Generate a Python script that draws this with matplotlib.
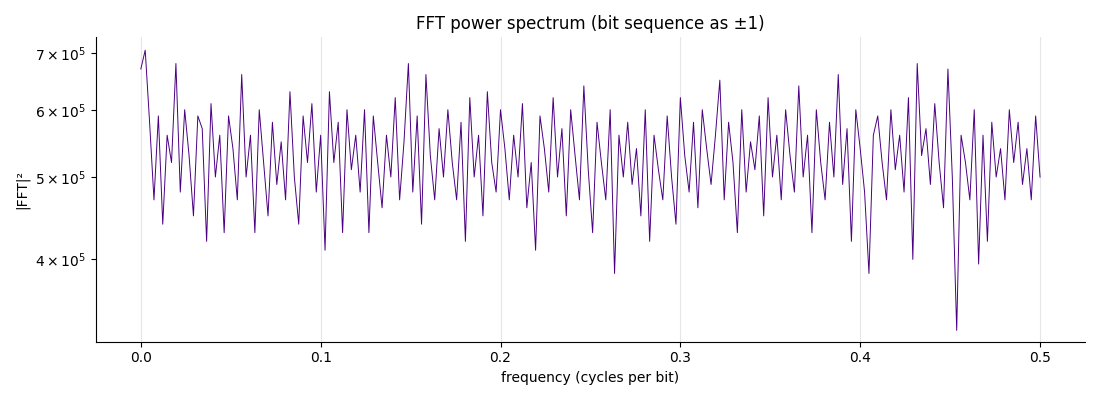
import numpy as np
import matplotlib.pyplot as plt

# |FFT|^2 in thousands (coarse sampling)
p = [670, 705, 580, 470, 590, 440, 560, 520, 680, 480, 600, 530, 450, 590, 570, 420, 610, 500, 560, 430,
     590, 540, 470, 660, 500, 560, 430, 600, 520, 450, 580, 490, 550, 470, 630, 500, 440, 590, 520, 610,
     480, 560, 410, 630, 520, 580, 430, 600, 510, 560, 480, 600, 430, 590, 520, 460, 560, 500, 620, 470,
     550, 680, 480, 590, 440, 660, 530, 470, 570, 500, 600, 520, 470, 580, 420, 620, 500, 560, 450, 630,
     520, 480, 600, 540, 470, 560, 500, 610, 460, 520, 410, 590, 540, 480, 620, 500, 570, 450, 600, 530,
     470, 640, 510, 430, 580, 520, 470, 600, 385, 560, 500, 580, 490, 540, 450, 600, 420, 560, 510, 470,
     590, 500, 440, 620, 530, 480, 580, 460, 600, 540, 490, 560, 650, 470, 580, 520, 430, 600, 480, 550,
     510, 590, 450, 620, 500, 560, 470, 600, 530, 480, 640, 500, 560, 430, 600, 520, 470, 580, 500, 660,
     490, 570, 420, 600, 540, 480, 385, 560, 590, 520, 470, 600, 510, 560, 480, 620, 400, 680, 530, 570,
     490, 610, 520, 460, 670, 500, 330, 560, 520, 470, 600, 395, 560, 420, 580, 500, 540, 470, 600, 520,
     580, 490, 540, 470, 590, 500]
p = np.array(p) * 1000.0
freq = np.linspace(0, 0.5, len(p))

fig, ax = plt.subplots(figsize=(11, 4), dpi=100)
ax.plot(freq, p, color='#4B0082', lw=0.7)
ax.set_yscale('log')
ax.set_ylim(3.2e5, 7.3e5)
ax.set_yticks([4e5, 5e5, 6e5, 7e5])
ax.set_yticklabels([r'$4\times10^5$', r'$5\times10^5$', r'$6\times10^5$', r'$7\times10^5$'])
ax.minorticks_off()
ax.grid(axis='x', color='#e6e6e6')
ax.set_axisbelow(True)
for s in ['top', 'right']:
    ax.spines[s].set_visible(False)
ax.set_title('FFT power spectrum (bit sequence as ±1)', fontsize=12)
ax.set_xlabel('frequency (cycles per bit)')
ax.set_ylabel('|FFT|²')
plt.tight_layout()
plt.savefig('out.png')
